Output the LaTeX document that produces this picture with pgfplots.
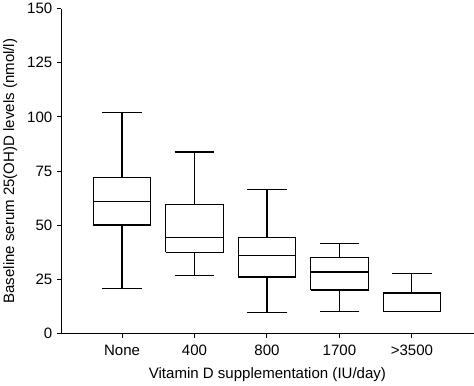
\documentclass[border=0pt]{standalone}
\usepackage{fontspec}
\setmainfont{Liberation Sans}
\usepackage{pgfplots}
\pgfplotsset{compat=1.18}
\begin{document}
\begin{tikzpicture}
\begin{axis}[
  scale only axis,
  width=411pt, height=324pt,
  xmin=0.163, xmax=5.85,
  ymin=0, ymax=150,
  axis lines*=left,
  axis line style={line width=1pt, black},
  xtick={1,2,3,4,5},
  xticklabels={None,400,800,1700,>3500},
  ytick={0,25,50,75,100,125,150},
  tick align=outside,
  major tick length=4pt,
  tick style={line width=1pt, black},
  /pgf/number format/assume math mode=true,
  tick label style={font=\fontsize{15}{18}\selectfont},
  x tick label style={yshift=-4pt},
  y tick label style={xshift=-1.5pt},
  label style={font=\fontsize{15}{18}\selectfont},
  xlabel={Vitamin D supplementation (IU/day)},
  ylabel={Baseline serum 25(OH)D levels (nmol/l)},
  xlabel style={yshift=-5pt},
  ylabel style={yshift=3pt},
  unbounded coords=jump,
]
% None: lw 20.8, lq 50.1, med 61.1, uq 72.2, uw 102
\addplot[black, line width=1.1pt, mark=none] coordinates {
 (0.605,50.1) (1.395,50.1) (1.395,72.2) (0.605,72.2) (0.605,50.1) (1,nan)
 (0.605,61.1) (1.395,61.1) (1,nan)
 (1,72.2) (1,102) (1,nan) (0.725,102) (1.275,102) (1,nan)
 (1,50.1) (1,20.8) (1,nan) (0.725,20.8) (1.275,20.8)
};
% 400: lw 27, lq 37.5, med 44.4, uq 59.4, uw 83.8
\addplot[black, line width=1.1pt, mark=none] coordinates {
 (1.605,37.5) (2.395,37.5) (2.395,59.4) (1.605,59.4) (1.605,37.5) (2,nan)
 (1.605,44.4) (2.395,44.4) (2,nan)
 (2,59.4) (2,83.8) (2,nan) (1.725,83.8) (2.275,83.8) (2,nan)
 (2,37.5) (2,27) (2,nan) (1.725,27) (2.275,27)
};
% 800: lw 9.9, lq 26.1, med 36.1, uq 44.3, uw 66.7
\addplot[black, line width=1.1pt, mark=none] coordinates {
 (2.605,26.1) (3.395,26.1) (3.395,44.3) (2.605,44.3) (2.605,26.1) (3,nan)
 (2.605,36.1) (3.395,36.1) (3,nan)
 (3,44.3) (3,66.7) (3,nan) (2.725,66.7) (3.275,66.7) (3,nan)
 (3,26.1) (3,9.9) (3,nan) (2.725,9.9) (3.275,9.9)
};
% 1700: lw 10, lq 20.1, med 28.4, uq 35.3, uw 41.7
\addplot[black, line width=1.1pt, mark=none] coordinates {
 (3.605,20.1) (4.395,20.1) (4.395,35.3) (3.605,35.3) (3.605,20.1) (4,nan)
 (3.605,28.4) (4.395,28.4) (4,nan)
 (4,35.3) (4,41.7) (4,nan) (3.725,41.7) (4.275,41.7) (4,nan)
 (4,20.1) (4,10) (4,nan) (3.725,10) (4.275,10)
};
% >3500: lw 10, lq 10, med 10, uq 18.7, uw 27.8
\addplot[black, line width=1.1pt, mark=none] coordinates {
 (4.605,10) (5.395,10) (5.395,18.7) (4.605,18.7) (4.605,10) (5,nan)
 (5,18.7) (5,27.8) (5,nan) (4.725,27.8) (5.275,27.8)
};
\end{axis}
\end{tikzpicture}
\end{document}
